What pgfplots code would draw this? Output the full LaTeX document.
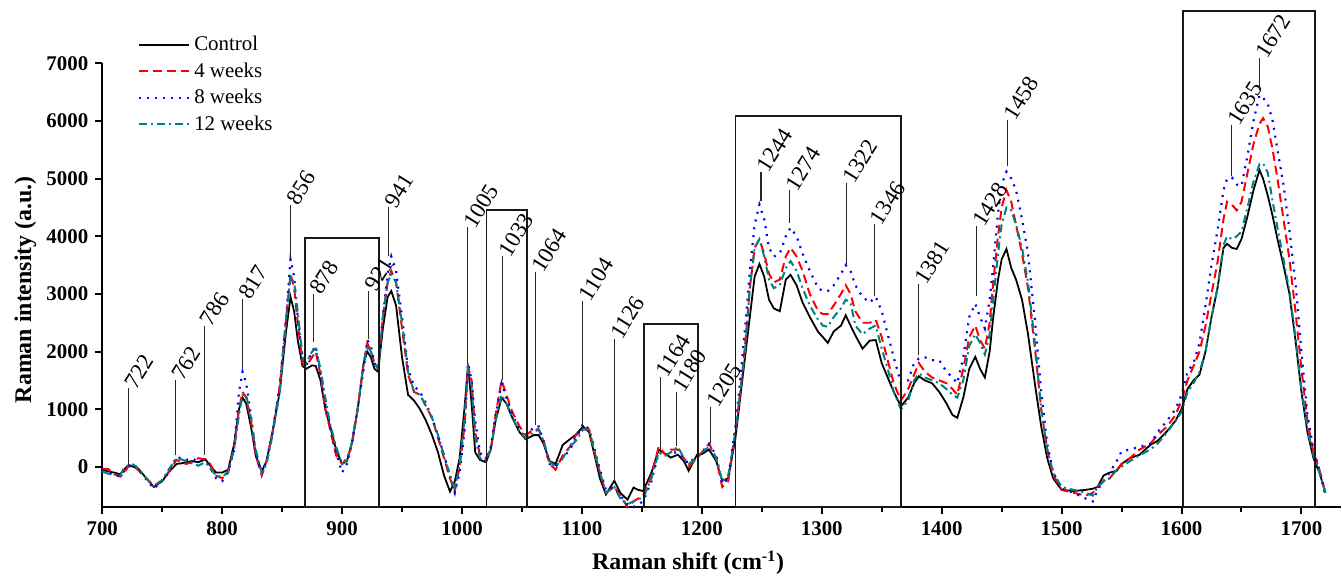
\documentclass[border=0pt]{standalone}
\usepackage{fontspec}
\setmainfont{Liberation Serif}
\usepackage{pgfplots}
\usepackage{pgfplotstable}
\pgfplotsset{compat=1.18}

\definecolor{wkred}{RGB}{255,0,0}
\definecolor{wkblue}{RGB}{0,0,255}
\definecolor{wkteal}{RGB}{0,128,128}

% Raman spectra: control and 4/8/12 weeks
\pgfplotstableread{
x C R B T
700 -50 -30 -60 -80
705 -80 -40 -100 -120
710 -100 -130 -150 -130
715 -130 -170 -160 -150
718 -50 -120 -80 -20
722 30 20 0 30
726 0 20 50 40
730 -30 -60 -40 -30
736 -180 -180 -200 -180
743 -350 -330 -380 -350
750 -250 -230 -240 -230
755 -100 -100 -120 -60
762 50 120 180 150
766 60 80 140 130
770 80 50 120 100
775 100 80 140 60
780 80 150 100 20
786 130 130 120 80
790 20 50 -20 -30
795 -100 -150 -200 -150
800 -100 -200 -250 -180
805 -50 -100 -80 -80
810 400 350 300 300
814 1000 1000 1300 900
817 1200 1300 1650 1250
820 1100 1200 1450 1250
824 700 800 900 850
828 200 200 200 300
833 -80 -150 -100 -100
837 100 100 100 50
842 600 600 600 550
848 1300 1400 1400 1300
853 2300 2500 2500 2500
857 2950 3350 3600 3300
860 2700 3100 3300 3200
863 2200 2500 2600 2700
867 1750 1800 1900 1900
870 1700 1750 1750 1800
875 1760 1900 2000 2000
878 1750 2000 2100 2050
882 1500 1600 1600 1700
886 1000 1000 1100 1200
890 700 650 700 750
895 300 200 250 350
900 50 50 -100 50
904 100 150 50 100
908 400 350 400 400
913 1000 1000 1000 1000
918 1800 1800 1700 1800
921 2000 2150 2200 2100
924 1900 2000 2100 2000
927 1700 1800 1800 1800
930 1650 1700 1700 1700
934 2400 2600 2600 2600
938 2950 3200 3350 3200
941 3050 3400 3650 3350
945 2800 3200 3400 3200
950 1900 2400 2600 2500
955 1250 1600 1700 1650
960 1150 1300 1400 1300
965 1000 1250 1300 1250
970 800 1050 1100 1050
975 550 850 850 850
980 250 500 550 550
985 -150 150 200 200
990 -430 -200 -150 -150
994 -250 -420 -450 -400
998 150 0 -100 50
1002 1000 700 600 800
1005 1750 1750 1800 1700
1008 1100 1500 1500 1400
1011 250 600 800 500
1015 120 200 250 150
1020 80 150 100 100
1024 300 300 350 300
1028 800 900 900 800
1033 1200 1500 1450 1250
1037 1100 1250 1200 1100
1042 850 950 900 850
1048 600 700 650 600
1053 480 550 500 500
1060 550 650 700 600
1064 550 650 700 650
1068 400 450 450 450
1073 100 50 50 100
1078 50 -50 0 0
1084 380 200 150 150
1090 480 350 300 350
1095 560 550 500 450
1101 700 650 750 650
1106 600 650 650 650
1110 250 300 350 300
1115 -200 -100 -50 -100
1120 -480 -450 -400 -450
1127 -240 -350 -350 -350
1132 -450 -500 -500 -550
1138 -570 -700 -650 -650
1143 -360 -600 -700 -600
1147 -400 -550 -650 -550
1151 -420 -500 -600 -550
1158 -100 -150 -250 -200
1164 300 350 250 250
1170 220 200 200 200
1174 160 300 250 250
1180 210 300 250 350
1185 100 150 150 150
1189 -70 0 50 50
1196 210 150 200 150
1200 220 250 250 250
1206 300 400 400 350
1212 100 150 200 150
1217 -240 -350 -300 -250
1222 -200 -250 -200 -150
1228 500 600 700 600
1232 1200 1300 1500 1300
1236 1900 2100 2400 2000
1240 2600 3100 3400 3100
1244 3300 3800 4200 3800
1248 3520 3950 4550 3950
1252 3300 3700 4300 3650
1256 2900 3350 3800 3250
1260 2750 3200 3650 3100
1265 2700 3250 3700 3150
1270 3250 3650 4000 3450
1274 3330 3800 4150 3570
1279 3150 3650 4000 3400
1284 2850 3400 3700 3100
1290 2600 3000 3400 2800
1297 2340 2700 3100 2550
1301 2250 2650 3050 2450
1305 2150 2650 3050 2430
1310 2350 2800 3150 2600
1316 2450 3000 3350 2750
1320 2630 3150 3500 2900
1324 2450 3000 3400 2850
1328 2280 2700 3150 2450
1334 2050 2500 2950 2300
1340 2190 2500 2850 2400
1345 2200 2550 2950 2450
1350 1800 2250 2700 2050
1355 1550 1850 2300 1700
1360 1300 1450 1900 1300
1366 1050 1150 1450 1000
1372 1200 1350 1500 1150
1377 1450 1600 1800 1500
1381 1570 1800 1880 1620
1386 1500 1650 1900 1550
1392 1450 1550 1850 1500
1398 1300 1500 1850 1450
1404 1100 1450 1650 1350
1409 900 1350 1550 1250
1413 850 1250 1450 1200
1418 1200 1700 1900 1500
1423 1700 2250 2600 2100
1428 1910 2450 2830 2300
1432 1700 2200 2600 2150
1436 1550 2050 2400 1950
1440 2000 2500 2900 2300
1443 2600 3200 3500 2900
1447 3250 4000 4400 3700
1450 3600 4500 4900 4200
1454 3780 4800 5120 4500
1458 3450 4600 5000 4450
1462 3250 4200 4800 4200
1467 2900 3700 4300 3800
1472 2300 3100 3700 3200
1478 1400 2000 2500 2100
1483 700 1000 1300 1000
1488 150 300 400 300
1493 -200 -150 -100 -100
1500 -400 -400 -380 -350
1510 -420 -450 -450 -400
1520 -400 -500 -550 -450
1526 -380 -450 -600 -500
1530 -350 -350 -400 -350
1535 -150 -250 -250 -250
1540 -100 -200 -100 -200
1546 -70 -50 100 -50
1550 50 50 270 0
1557 150 150 300 100
1565 210 300 350 200
1574 380 400 400 300
1580 450 550 600 400
1588 620 700 800 600
1595 800 900 1000 800
1600 1000 1150 1250 950
1605 1350 1500 1650 1300
1610 1500 1750 1800 1450
1615 1600 2000 2150 1650
1620 2000 2450 2800 2000
1625 2600 3000 3500 2600
1630 3100 3550 4100 3100
1635 3800 4300 4800 3850
1638 3870 4600 5000 4000
1642 3800 4550 5020 3950
1646 3780 4450 4900 4000
1650 3950 4600 4870 4080
1655 4350 5100 5400 4500
1660 4800 5600 6000 4950
1665 5150 5950 6450 5250
1668 5000 6050 6400 5270
1672 4700 5900 6300 5100
1676 4350 5500 6000 4600
1680 3950 5000 5500 4150
1685 3500 4300 4900 3600
1690 3000 3600 4100 3050
1695 2200 2700 3200 2250
1700 1300 1700 2000 1350
1705 600 800 900 650
1710 150 250 300 200
1715 -100 -50 -50 -100
1720 -450 -450 -500 -450
}\spectra

% peak marker: x, bottom, top, label
\newcommand{\peak}[4]{%
  \draw[black!85, line width=0.6pt] (axis cs:#1,#2) -- (axis cs:#1,#3)
    node[anchor=west, rotate=58, inner sep=1pt, font=\fontsize{11.5}{13}\selectfont, black] {#4};}
% boxed region: x1, x2, top
\newcommand{\region}[3]{%
  \draw[black!90, line width=0.9pt] (axis cs:#1,-700) rectangle (axis cs:#2,#3);}

\begin{document}
\begin{tikzpicture}
\begin{axis}[
    scale only axis,
    width=622.5pt, height=223pt,
    xmin=700, xmax=1733,
    ymin=-700, ymax=7000,
    axis lines=left,
    axis line style={line width=1pt, -},
    every tick/.style={line width=1pt, black},
    tick align=outside,
    major tick length=3.5pt,
    minor tick length=2.5pt,
    xtick distance=100,
    minor x tick num=1,
    ytick={0,1000,2000,3000,4000,5000,6000,7000},
    /pgf/number format/set thousands separator={},
    /pgf/number format/assume math mode=true,
    tick label style={font=\bfseries\fontsize{10.5}{12}\selectfont},
    xlabel={\textbf{Raman shift (cm\textsuperscript{-1})}},
    ylabel={\textbf{Raman intensity (a.u.)}},
    label style={font=\bfseries\fontsize{12}{14}\selectfont},
    xlabel style={at={(axis description cs:0.473,-0.125)}, anchor=center},
    ylabel style={at={(axis description cs:-0.062,0.49)}, anchor=center},
    clip=false,
    legend style={draw=none, fill=none, at={(0.024,1.08)}, anchor=north west,
        font=\fontsize{10.5}{12}\selectfont, row sep=0.5pt,
        cells={anchor=west}},
    legend image code/.code={\draw[#1] (0pt,0pt) -- (25pt,0pt);},
]
\addplot[black, line width=0.9pt] table[x=x, y=C] {\spectra};
\addlegendentry{Control}
\addplot[wkred, line width=1pt, dash pattern=on 4.5pt off 2.5pt] table[x=x, y=R] {\spectra};
\addlegendentry{4 weeks}
\addplot[wkblue, line width=1.1pt, dash pattern=on 1pt off 3pt] table[x=x, y=B] {\spectra};
\addlegendentry{8 weeks}
\addplot[wkteal, line width=1pt, dash pattern=on 4pt off 2pt on 1pt off 2pt] table[x=x, y=T] {\spectra};
\addlegendentry{12 weeks}

\region{869}{931}{3966}
\region{1020.5}{1054}{4460}
\region{1151.5}{1197}{2483}
\region{1228}{1366}{6090}
\region{1601}{1711}{7910}

\peak{722}{40}{1360}{722}
\peak{761}{210}{1505}{762}
\peak{785}{210}{2450}{786}
\peak{817}{1710}{2910}{817}
\peak{857}{3600}{4550}{856}
\peak{876}{2170}{3000}{878}
\peak{922}{2224}{3057}{921}
\peak{939}{3660}{4500}{941}
\peak{1004.6}{1790}{4155}{1005}
\peak{1034}{1505}{3650}{1033}
\peak{1061.6}{730}{3380}{1064}
\peak{1100.8}{730}{2885}{1104}
\peak{1127}{-240}{2224}{1126}
\peak{1165.3}{300}{1563}{1164}
\peak{1178.8}{356}{1305}{1180}
\peak{1207.3}{414}{1045}{1205}
\peak{1249.4}{4608}{5120}{1244}
\peak{1273.2}{4236}{4800}{1274}
\peak{1320.7}{3517}{4930}{1322}
\peak{1343.7}{2971}{4207}{1346}
\peak{1380.8}{1936}{3172}{1381}
\peak{1429.2}{2971}{4178}{1428}
\peak{1455}{5212}{6020}{1458}
\peak{1641.6}{5040}{5931}{1635}
\peak{1665}{6534}{7098}{1672}
\end{axis}
\path ([yshift=5pt]current bounding box.north) ([xshift=-4pt]current bounding box.west);
\end{tikzpicture}
\end{document}
